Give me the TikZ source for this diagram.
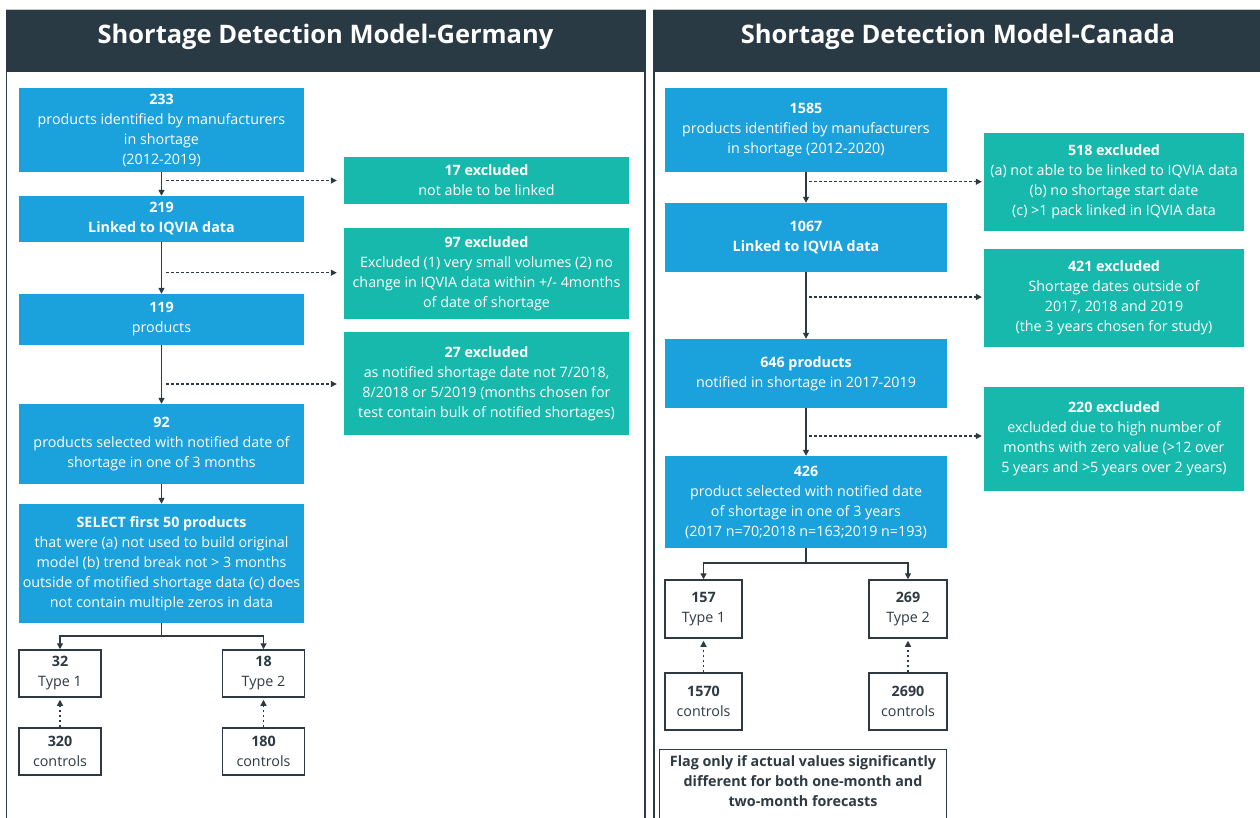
\documentclass[tikz,border=0pt]{standalone}
\usepackage{fontspec}
\setmainfont{Open Sans}
\usetikzlibrary{arrows.meta}
\definecolor{hdr}{HTML}{2A3A44}
\definecolor{blu}{HTML}{1BA1DB}
\definecolor{tea}{HTML}{17B9AD}
\definecolor{ink}{HTML}{2D3A42}
\begin{document}
\begin{tikzpicture}[x=1pt,y=-1pt,
  txt/.style={inner sep=0pt,align=center,font=\fontsize{14.3}{20}\selectfont},
  bbox/.style={txt,fill=blu,text=white},
  tbox/.style={txt,fill=tea,text=white},
  wbox/.style={txt,draw=ink,line width=1.5pt,fill=white,text=ink},
  ttl/.style={text=white,font=\fontsize{25.5}{30}\selectfont\bfseries},
  flow/.style={draw=ink,line width=1.4pt,-{Triangle[length=6pt,width=6pt]}},
  dotarrow/.style={draw=ink,line width=1.2pt,dash pattern=on 2.5pt off 2.5pt,-{Triangle[length=6pt,width=6pt]}},
  frame/.style={draw=ink,line width=1.5pt}]
\useasboundingbox (0,0) rectangle (1260,817);
\clip (0,0) rectangle (1260,817);
\fill[white] (0,0) rectangle (1260,817);
% headers
\fill[hdr] (6,10) rectangle (645.5,72);
\fill[hdr] (653,10) rectangle (1264,72);
\draw[gray!45,line width=1pt] (6,9.5) -- (645.5,9.5);
\draw[gray!45,line width=1pt] (653,9.5) -- (1264,9.5);
\draw[frame] (6.5,72) -- (6.5,830);
\draw[frame] (645,72) -- (645,830);
\draw[frame] (654,72) -- (654,830);
\node[ttl] (tG) at (325.5,37) {Shortage Detection Model-Germany};
\node[ttl] (tC) at (958,37) {Shortage Detection Model-Canada};

% ---------- Germany ----------
\node[bbox,minimum width=285pt,minimum height=84pt] (g1) at (161.5,130) {\textbf{233}\\products identified by manufacturers\\in shortage\\(2012-2019)};
\node[bbox,minimum width=285pt,minimum height=46pt] (g2) at (161.5,219) {\textbf{219}\\\textbf{Linked to IQVIA data}};
\node[bbox,minimum width=285pt,minimum height=51pt] (g3) at (161.5,319.5) {\textbf{119}\\products};
\node[bbox,minimum width=285pt,minimum height=80pt] (g4) at (161.5,444) {\textbf{92}\\products selected with notified date of\\shortage in one of 3 months};
\node[bbox,minimum width=285pt,minimum height=119pt] (g5) at (161.5,563.5) {\textbf{SELECT first 50 products}\\that were (a) not used to build original\\model (b) trend break not > 3 months\\outside of motified shortage data (c) does\\not contain multiple zeros in data};

\node[tbox,minimum width=285pt,minimum height=47pt] (ge1) at (486.5,180.5) {\textbf{17 excluded}\\not able to be linked};
\node[tbox,minimum width=285pt,minimum height=91pt] (ge2) at (486.5,273.5) {\textbf{97 excluded}\\Excluded (1) very small volumes (2) no\\change in IQVIA data within +/- 4months\\of date of shortage};
\node[tbox,minimum width=285pt,minimum height=103pt] (ge3) at (486.5,383.5) {\textbf{27 excluded}\\as notified shortage date not 7/2018,\\8/2018 or 5/2019 (months chosen for\\test contain bulk of notified shortages)};

\node[wbox,minimum width=82pt,minimum height=47pt] (gt1) at (60,673.5) {\textbf{32}\\Type 1};
\node[wbox,minimum width=82pt,minimum height=47pt] (gt2) at (263.5,673.5) {\textbf{18}\\Type 2};
\node[wbox,minimum width=82pt,minimum height=47pt] (gc1) at (60,751.5) {\textbf{320}\\controls};
\node[wbox,minimum width=82pt,minimum height=47pt] (gc2) at (263.5,751.5) {\textbf{180}\\controls};

\draw[flow] (g1) -- (g2);
\draw[flow] (g2) -- (g3);
\draw[flow] (g3) -- (g4);
\draw[flow] (g4) -- (g5);
\coordinate (gd1) at (166,180.5);
\coordinate (gd2) at (166,272.7);
\coordinate (gd3) at (166,384);
\draw[dotarrow,shorten >=7pt] (gd1) -- (gd1 -| ge1.west);
\draw[dotarrow,shorten >=7pt] (gd2) -- (gd2 -| ge2.west);
\draw[dotarrow,shorten >=7pt] (gd3) -- (gd3 -| ge3.west);
\coordinate (gb) at (161.5,636);
\draw[draw=ink,line width=1.4pt] (g5.south) -- (gb);
\draw[flow] (gb) -| (gt1.north);
\draw[flow] (gb) -| (gt2.north);
\draw[dotarrow,shorten >=2pt] (gc1.north) -- (gt1.south);
\draw[dotarrow,shorten >=2pt] (gc2.north) -- (gt2.south);

% ---------- Canada ----------
\node[bbox,minimum width=282pt,minimum height=84pt] (c1) at (806,130) {\textbf{1585}\\products identified by manufacturers\\in shortage (2012-2020)};
\node[bbox,minimum width=282pt,minimum height=69pt] (c2) at (806,237.5) {\textbf{1067}\\\textbf{Linked to IQVIA data}};
\node[bbox,minimum width=282pt,minimum height=69pt] (c3) at (806,373.5) {\textbf{646 products}\\notified in shortage in 2017-2019};
\node[bbox,minimum width=282pt,minimum height=92pt] (c4) at (806,502) {\textbf{426}\\product selected with notified date\\of shortage in one of 3 years\\(2017 n=70;2018 n=163;2019 n=193)};

\node[tbox,minimum width=260pt,minimum height=98pt] (ce1) at (1114,182) {\textbf{518 excluded}\\(a) not able to be linked to IQVIA data\\(b) no shortage start date\\(c) >1 pack linked in IQVIA data};
\node[tbox,minimum width=260pt,minimum height=98pt] (ce2) at (1114,298) {\textbf{421 excluded}\\Shortage dates outside of\\2017, 2018 and 2019\\(the 3 years chosen for study)};
\node[tbox,minimum width=260pt,minimum height=104pt] (ce3) at (1114,439) {\textbf{220 excluded}\\excluded due to high number of\\months with zero value (>12 over\\5 years and >5 years over 2 years)};

\node[wbox,minimum width=77pt,minimum height=58pt] (ct1) at (703.5,609) {\textbf{157}\\Type 1};
\node[wbox,minimum width=78pt,minimum height=58pt] (ct2) at (908,609) {\textbf{269}\\Type 2};
\node[wbox,minimum width=77pt,minimum height=57pt] (cc1) at (703.5,701.5) {\textbf{1570}\\controls};
\node[wbox,minimum width=78pt,minimum height=57pt] (cc2) at (908,701.5) {\textbf{2690}\\controls};

\draw[frame] (659.5,749.5) rectangle (946.5,840);
\node[txt,text=ink,font=\fontsize{14.3}{20}\selectfont\bfseries] (flag) at (803,781) {Flag only if actual values significantly\\different for both one-month and\\two-month forecasts};

\draw[flow] (c1) -- (c2);
\draw[flow] (c2) -- (c3);
\draw[flow] (c3) -- (c4);
\coordinate (cd1) at (809,181.7);
\coordinate (cd2) at (809,297);
\coordinate (cd3) at (809,436);
\draw[dotarrow,shorten >=2pt] (cd1) -- (cd1 -| ce1.west);
\draw[dotarrow,shorten >=2pt] (cd2) -- (cd2 -| ce2.west);
\draw[dotarrow,shorten >=2pt] (cd3) -- (cd3 -| ce3.west);
\coordinate (cb) at (806,563);
\draw[draw=ink,line width=1.4pt] (c4.south) -- (cb);
\draw[flow] (cb) -| (ct1.north);
\draw[flow] (cb) -| (ct2.north);
\draw[dotarrow,shorten >=2pt] (cc1.north) -- (ct1.south);
\draw[dotarrow,shorten >=2pt] (cc2.north) -- (ct2.south);
\end{tikzpicture}
\end{document}
